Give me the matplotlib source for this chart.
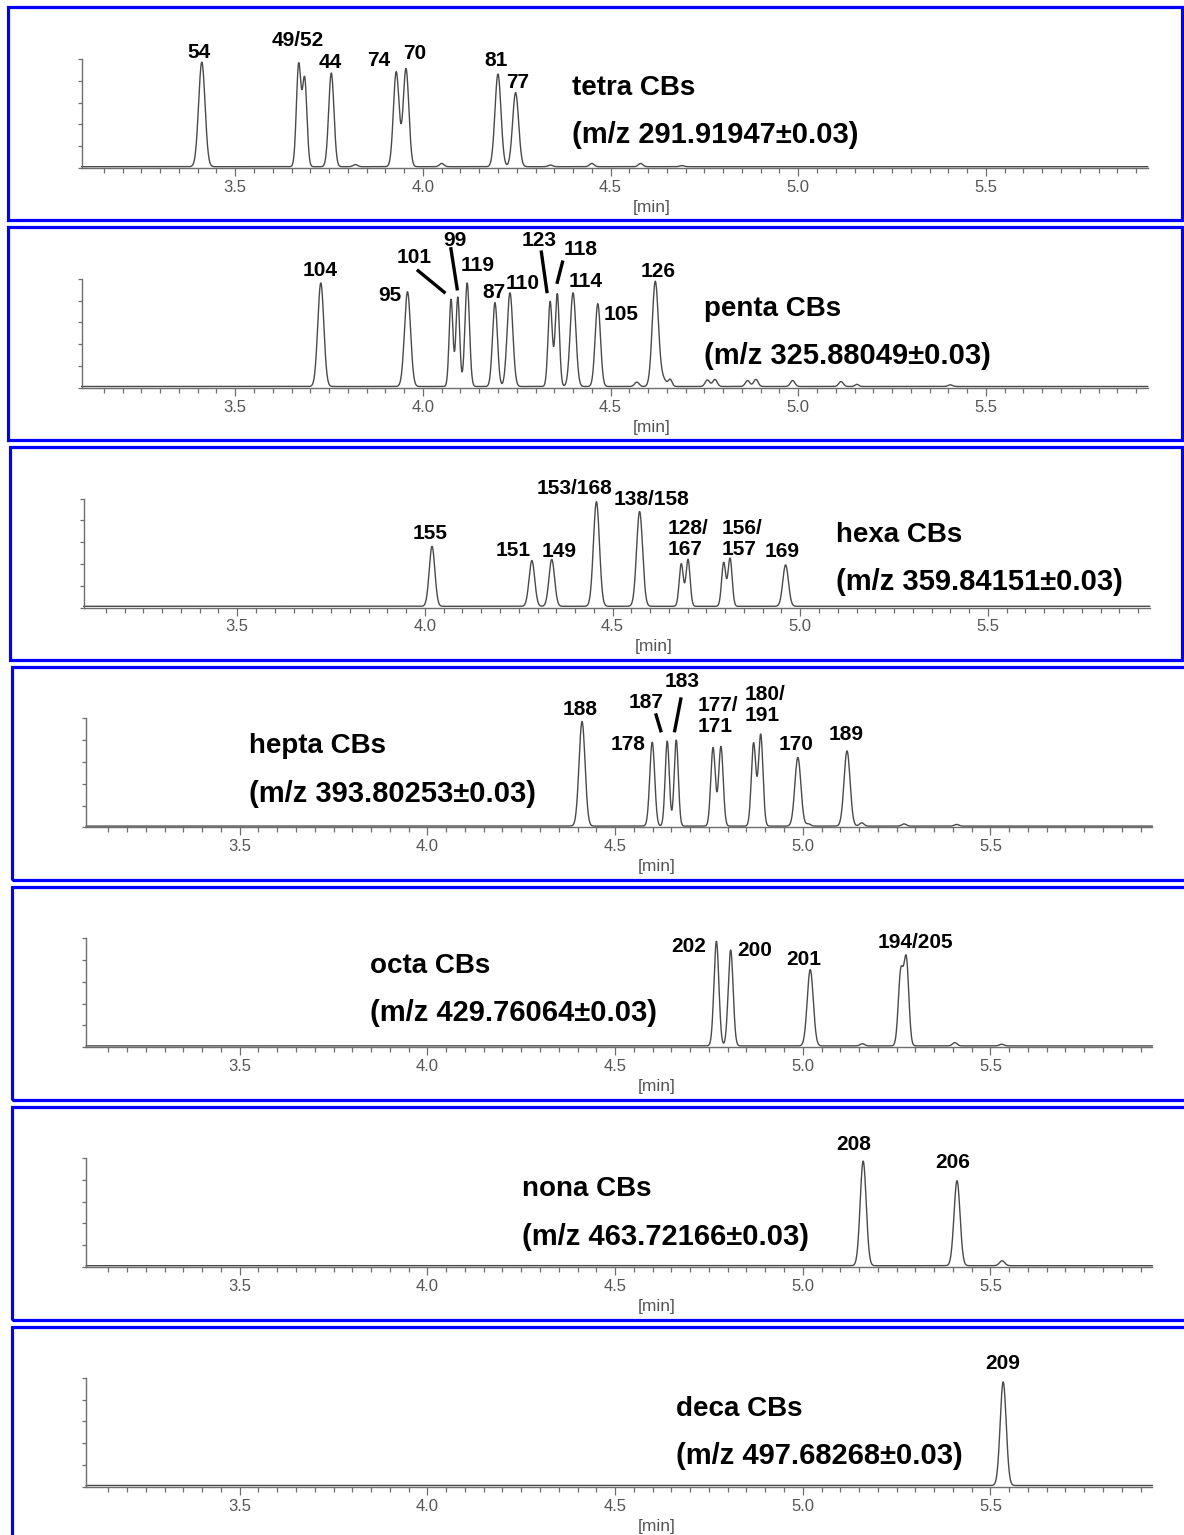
import numpy as np
import matplotlib.pyplot as plt
from matplotlib.patches import Rectangle

# ---- data: retention time [min], relative height, peak sigma [min]
tetra_rt = [3.411, 3.669, 3.685, 3.756, 3.82, 3.929, 3.955, 4.05, 4.200, 4.247, 4.34, 4.45, 4.58, 4.69]
tetra_h = [0.96, 0.93, 0.80, 0.86, 0.02, 0.87, 0.90, 0.03, 0.85, 0.68, 0.015, 0.03, 0.03, 0.01]
tetra_w = [0.0085, 0.006, 0.006, 0.007, 0.006, 0.0075, 0.0075, 0.006, 0.008, 0.008, 0.006, 0.006, 0.006, 0.006]

penta_rt = [3.728, 3.959, 4.075, 4.093, 4.118, 4.192, 4.232, 4.339, 4.358, 4.400, 4.466, 4.57, 4.619,
            4.637, 4.659, 4.758, 4.778, 4.865, 4.887, 4.985, 5.114, 5.156, 5.405]
penta_h = [0.95, 0.87, 0.80, 0.82, 0.95, 0.77, 0.86, 0.78, 0.85, 0.86, 0.76, 0.04, 0.95,
           0.08, 0.06, 0.06, 0.065, 0.055, 0.065, 0.055, 0.045, 0.02, 0.015]
penta_w = [0.008, 0.008, 0.005, 0.005, 0.006, 0.0065, 0.0075, 0.0055, 0.0055, 0.0075, 0.007, 0.006, 0.008,
           0.01, 0.005, 0.006, 0.006, 0.006, 0.006, 0.006, 0.006, 0.005, 0.006]

hexa_rt = [4.019, 4.285, 4.338, 4.457, 4.572, 4.683, 4.701, 4.796, 4.813, 4.961]
hexa_h = [0.55, 0.42, 0.43, 0.96, 0.87, 0.39, 0.43, 0.40, 0.44, 0.38]
hexa_w = [0.0075, 0.0075, 0.0075, 0.008, 0.008, 0.0055, 0.0055, 0.0055, 0.0055, 0.0075]

hepta_rt = [4.412, 4.599, 4.639, 4.663, 4.761, 4.782, 4.869, 4.888, 4.987, 5.015, 5.118, 5.157, 5.27, 5.41]
hepta_h = [0.96, 0.77, 0.78, 0.79, 0.72, 0.73, 0.76, 0.84, 0.63, 0.02, 0.69, 0.03, 0.02, 0.015]
hepta_w = [0.008, 0.0065, 0.0055, 0.0055, 0.006, 0.006, 0.006, 0.006, 0.008, 0.006, 0.008, 0.006, 0.006, 0.006]

octa_rt = [4.770, 4.808, 5.020, 5.159, 5.261, 5.276, 5.405, 5.53]
octa_h = [0.96, 0.88, 0.70, 0.02, 0.66, 0.78, 0.03, 0.015]
octa_w = [0.0065, 0.0065, 0.008, 0.006, 0.0065, 0.0065, 0.006, 0.006]

nona_rt = [5.161, 5.411, 5.531]
nona_h = [0.96, 0.78, 0.045]
nona_w = [0.008, 0.008, 0.007]

deca_rt = [5.534]
deca_h = [0.95]
deca_w = [0.008]

groups = ['tetra CBs', 'penta CBs', 'hexa CBs', 'hepta CBs', 'octa CBs', 'nona CBs', 'deca CBs']
mz = ['291.91947', '325.88049', '359.84151', '393.80253', '429.76064', '463.72166', '497.68268']

# ---- peak labels: text, rt of label centre, height of label centre
tetra_lab = ['54', '49/52', '44', '74', '70', '81', '77']
tetra_lab_x = [3.404, 3.666, 3.754, 3.883, 3.977, 4.195, 4.252]
tetra_lab_y = [1.06, 1.167, 0.968, 0.99, 1.05, 0.99, 0.784]

penta_lab = ['104', '95', '101', '99', '119', '87', '110', '123', '118', '114', '105', '126']
penta_lab_x = [3.727, 3.911, 3.976, 4.084, 4.147, 4.189, 4.266, 4.309, 4.420, 4.433, 4.529, 4.626]
penta_lab_y = [1.076, 0.847, 1.198, 1.351, 1.122, 0.874, 0.961, 1.351, 1.273, 0.977, 0.671, 1.069]

hexa_lab = ['155', '151', '149', '153/168', '138/158', '169']
hexa_lab_x = [4.014, 4.234, 4.358, 4.398, 4.604, 4.952]
hexa_lab_y = [0.681, 0.528, 0.513, 1.094, 0.994, 0.513]
hexa_lab2 = ['128/\n167', '156/\n157']
hexa_lab2_x = [4.648, 4.791]
hexa_lab2_y = [0.631, 0.631]

hepta_lab = ['188', '178', '187', '183', '170', '189']
hepta_lab_x = [4.406, 4.535, 4.583, 4.678, 4.982, 5.116]
hepta_lab_y = [1.078, 0.757, 1.147, 1.339, 0.757, 0.849]
hepta_lab2 = ['177/\n171', '180/\n191']
hepta_lab2_x = [4.719, 4.846]
hepta_lab2_y = [1.021, 1.12]

octa_lab = ['202', '200', '201', '194/205']
octa_lab_x = [4.696, 4.871, 5.003, 5.300]
octa_lab_y = [0.926, 0.887, 0.803, 0.963]

nona_lab = ['208', '206']
nona_lab_x = [5.136, 5.400]
nona_lab_y = [1.124, 0.959]

deca_lab = ['209']
deca_lab_x = [5.532]
deca_lab_y = [1.128]

# leader lines (rt0, y0, rt1, y1)
penta_leaders = [(3.984, 1.083, 4.060, 0.868), (4.074, 1.290, 4.092, 0.893),
                 (4.315, 1.260, 4.331, 0.868), (4.373, 1.168, 4.357, 0.954)]
hepta_leaders = [(4.608, 1.046, 4.623, 0.872), (4.676, 1.193, 4.658, 0.872)]

# title placement (rt of left edge, y of line 1, y of line 2)
title_x = [4.397, 4.750, 5.095, 3.526, 3.846, 4.252, 4.662]
title_y1 = [0.734, 0.723, 0.665, 0.745, 0.745, 0.716, 0.714]
title_y2 = [0.303, 0.292, 0.235, 0.305, 0.314, 0.275, 0.283]

peaks = [(tetra_rt, tetra_h, tetra_w), (penta_rt, penta_h, penta_w), (hexa_rt, hexa_h, hexa_w),
         (hepta_rt, hepta_h, hepta_w), (octa_rt, octa_h, octa_w), (nona_rt, nona_h, nona_w),
         (deca_rt, deca_h, deca_w)]
labels = [(tetra_lab, tetra_lab_x, tetra_lab_y), (penta_lab, penta_lab_x, penta_lab_y),
          (hexa_lab, hexa_lab_x, hexa_lab_y), (hepta_lab, hepta_lab_x, hepta_lab_y),
          (octa_lab, octa_lab_x, octa_lab_y), (nona_lab, nona_lab_x, nona_lab_y),
          (deca_lab, deca_lab_x, deca_lab_y)]
labels2 = {2: (hexa_lab2, hexa_lab2_x, hexa_lab2_y), 3: (hepta_lab2, hepta_lab2_x, hepta_lab2_y)}
leaders = {1: penta_leaders, 3: hepta_leaders}

W, H = 1184, 1535
fig = plt.figure(figsize=(W / 100, H / 100), dpi=100)
plt.rcParams['font.family'] = ['Liberation Sans', 'DejaVu Sans']

xmin, xmax = 3.091, 5.931
dx = [0, 0, 2, 4.5, 4.5, 4.5, 4.5]
box_left = [7.5, 7.5, 9.5, 12, 12, 12, 12]
box_right = [1182, 1182, 1182, 1192, 1192, 1192, 1192]
axcol = '#6e6e6e'

for i in range(7):
    base = 168 + 219.8 * i
    ax = fig.add_axes([(81.7 + dx[i]) / W, (H - base) / H, 1066 / W, 109 / H])
    ax.set_xlim(xmin, xmax)
    ax.set_ylim(0, 1)
    for s in ['top', 'right']:
        ax.spines[s].set_visible(False)
    for s in ['left', 'bottom']:
        ax.spines[s].set_color(axcol)
        ax.spines[s].set_linewidth(1.0)
    ax.set_xticks([3.5, 4.0, 4.5, 5.0, 5.5])
    ax.set_xticklabels(['3.5', '4.0', '4.5', '5.0', '5.5'])
    ax.set_xticks(np.arange(3.15, 5.92, 0.05), minor=True)
    ax.set_yticks(np.linspace(0, 1, 6))
    ax.set_yticklabels([])
    ax.tick_params(axis='x', which='major', length=5.5, width=0.9, color=axcol,
                   labelsize=12, labelcolor='#555555', pad=3)
    ax.tick_params(axis='x', which='minor', length=3.8, width=0.9, color=axcol)
    ax.tick_params(axis='y', length=3, width=0.9, color=axcol)

    rt, h, w = peaks[i]
    t = np.linspace(xmin, xmax, 4000)
    y = np.full_like(t, 0.012)
    for r, hh, ww in zip(rt, h, w):
        y += hh * np.exp(-0.5 * ((t - r) / ww) ** 2)
    ax.plot(t, y, color='#4a4a4a', lw=1.0, clip_on=False)

    txt, lx, ly = labels[i]
    for s, xx, yy in zip(txt, lx, ly):
        ax.text(xx, yy, s, ha='center', va='center', fontsize=15, fontweight='bold')
    if i in labels2:
        txt, lx, ly = labels2[i]
        for s, xx, yy in zip(txt, lx, ly):
            ax.text(xx, yy, s, ha='left', va='center', fontsize=15, fontweight='bold',
                    multialignment='left', linespacing=1.15)
    for (x0, y0, x1, y1) in leaders.get(i, []):
        ax.plot([x0, x1], [y0, y1], color='black', lw=2.4, clip_on=False, solid_capstyle='butt')

    ax.text(title_x[i], title_y1[i], groups[i], ha='left', va='center', fontsize=20, fontweight='bold')
    ax.text(title_x[i], title_y2[i], '(m/z ' + mz[i] + '\u00b10.03)', ha='left', va='center',
            fontsize=21, fontweight='bold')
    ax.text(0.535, -0.36, '[min]', transform=ax.transAxes, ha='center', va='center',
            fontsize=12.5, color='#555555')

    top = 6.5 + 220.15 * i
    fig.add_artist(Rectangle((box_left[i] / W, 1 - (top + 213) / H), (box_right[i] - box_left[i]) / W, 213 / H,
                             transform=fig.transFigure, fill=False, ec='#0000ff', lw=2.3))

fig.savefig('out.png', dpi=100)
